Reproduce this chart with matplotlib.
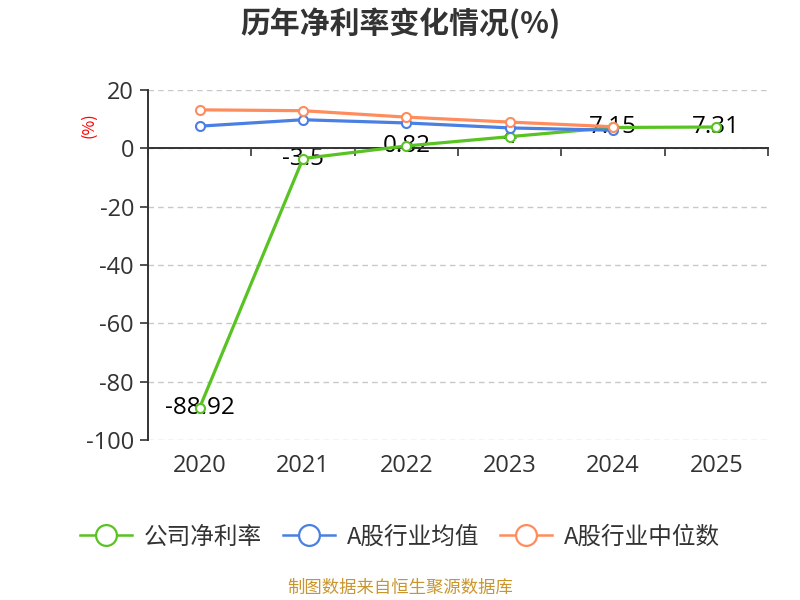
import matplotlib
matplotlib.use("Agg")
import matplotlib.pyplot as plt
from matplotlib.lines import Line2D
import numpy as np

plt.rcParams["font.family"] = ["Noto Sans CJK SC", "DejaVu Sans"]
plt.rcParams["axes.unicode_minus"] = False
NUM_FONT = ["Open Sans", "DejaVu Sans"]

# net profit margin by year, %
YEARS = ["2020", "2021", "2022", "2023", "2024", "2025"]
COMPANY = [-88.92, -3.5, 0.82, 4, 7.15, 7.31]
IND_MEAN = [7.6, 9.8, 8.7, 7.0, 6.2]
IND_MEDIAN = [13.2, 12.9, 10.7, 9.0, 7.4]
COMPANY_LABELS = ["-88.92", "-3.5", "0.82", "4", "7.15", "7.31"]

SERIES = [
    ("公司净利率", COMPANY, "#58C322"),
    ("A股行业均值", IND_MEAN, "#4A7FE3"),
    ("A股行业中位数", IND_MEDIAN, "#FF8C5C"),
]

TEXT = "#333333"

fig = plt.figure(figsize=(8, 6), dpi=100)
ax = fig.add_axes([0.185, 0.2667, 0.775, 0.5833])

x = np.arange(len(YEARS))
for label, vals, color in SERIES:
    ax.plot(x[:len(vals)], vals, color=color, linewidth=2.3, marker="o",
            markersize=6.5, markerfacecolor="white", markeredgecolor=color,
            markeredgewidth=1.5, label=label, zorder=3)

for xi, v, t in zip(x, COMPANY, COMPANY_LABELS):
    ax.annotate(t, (xi, v), xytext=(0, 0), textcoords="offset points",
                ha="center", va="center", fontsize=17.5, color="black",
                family=NUM_FONT, zorder=2.5)

ax.set_xlim(-0.5, len(YEARS) - 0.5)
ax.set_ylim(-100, 20)
ax.set_yticks(np.arange(-100, 21, 20))
ax.tick_params(axis="y", labelsize=17, labelcolor=TEXT, color=TEXT,
               length=6, width=1.2, pad=4)
for lab in ax.get_yticklabels():
    lab.set_family(NUM_FONT)
ax.grid(True, axis="y", linestyle=(0, (4, 3)), color="#c8c8c8", linewidth=1)

for side in ["top", "right"]:
    ax.spines[side].set_visible(False)
ax.spines["left"].set_color(TEXT)
ax.spines["left"].set_linewidth(1.4)
ax.spines["bottom"].set_position(("data", 0))
ax.spines["bottom"].set_color(TEXT)
ax.spines["bottom"].set_linewidth(1.4)
ax.set_xticks(np.arange(-0.5, len(YEARS), 1.0))
ax.set_xticklabels([])
ax.tick_params(axis="x", length=6, width=1.2, color=TEXT)

sec = ax.secondary_xaxis("bottom")
sec.set_xticks(x)
sec.set_xticklabels(YEARS, fontsize=17, color=TEXT, family=NUM_FONT)
sec.tick_params(length=0, pad=10)
sec.spines["bottom"].set_visible(False)

fig.text(0.5, 0.962, "历年净利率变化情况(%)", ha="center", va="center",
         fontsize=21.5, fontweight="bold", color=TEXT)
fig.text(0.111, 0.792, "(%)", ha="center", va="center", rotation=90,
         fontsize=11.5, color="red")

handles = [Line2D([], [], color=c, linewidth=1.8, marker="o", markersize=15,
                  markerfacecolor="white", markeredgecolor=c,
                  markeredgewidth=1.6) for _, _, c in SERIES]
fig.legend(handles, [s[0] for s in SERIES], loc="center",
           bbox_to_anchor=(0.5, 0.105), ncol=3, frameon=False,
           fontsize=17, handlelength=2.2, columnspacing=0.9, handletextpad=0.5,
           labelcolor=TEXT)

fig.text(0.5, 0.02, "制图数据来自恒生聚源数据库", ha="center", va="center",
         fontsize=12.5, color="#C9962E")

fig.savefig("out.png", dpi=100)
